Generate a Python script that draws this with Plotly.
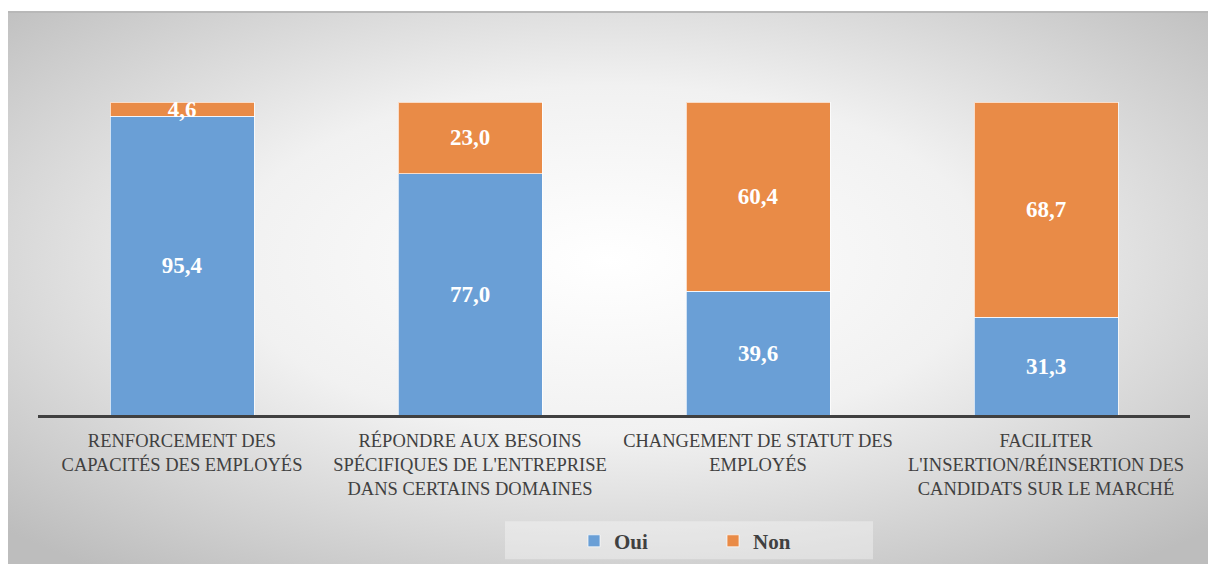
import plotly.graph_objects as go
import base64

categories = [
    "RENFORCEMENT DES<br>CAPACITÉS DES EMPLOYÉS",
    "RÉPONDRE AUX BESOINS<br>SPÉCIFIQUES DE L'ENTREPRISE<br>DANS CERTAINS DOMAINES",
    "CHANGEMENT DE STATUT DES<br>EMPLOYÉS",
    "FACILITER<br>L'INSERTION/RÉINSERTION DES<br>CANDIDATS SUR LE MARCHÉ",
]
oui = [95.4, 77.0, 39.6, 31.3]
non = [4.6, 23.0, 60.4, 68.7]

W, H = 1208, 574
K = H / 564.0  # vertical design factor
serif = "Liberation Serif, Times New Roman, serif"

FX, FY = 8, 9 * K
FW, FH = W - FX, H - FY

svg = (
    f'<svg xmlns="http://www.w3.org/2000/svg" width="{FW}" height="{FH:.0f}" preserveAspectRatio="none">'
    '<defs><radialGradient id="g" cx="50%" cy="45%" r="70%">'
    '<stop offset="0%" stop-color="#ffffff"/>'
    '<stop offset="45%" stop-color="#f1f1f1"/>'
    '<stop offset="100%" stop-color="#bdbdbd"/>'
    '</radialGradient></defs>'
    f'<rect width="{FW}" height="{FH:.0f}" fill="url(#g)"/></svg>'
)
uri = "data:image/svg+xml;base64," + base64.b64encode(svg.encode()).decode()

label_font = dict(family=serif, size=23, color="white", weight="bold")

fig = go.Figure()
fig.add_trace(go.Bar(
    x=categories, y=oui, name="Oui",
    marker=dict(color="#6a9fd6", line=dict(color="rgba(255,255,255,0.7)", width=1)),
    texttemplate="%{y:.1f}", textposition="inside", insidetextanchor="middle",
    textfont=label_font,
))
fig.add_trace(go.Bar(
    x=categories, y=non, name="Non",
    marker=dict(color="#e98b47", line=dict(color="rgba(255,255,255,0.7)", width=1)),
    texttemplate="%{y:.1f}", textposition="inside", insidetextanchor="middle",
    textfont=label_font,
))

m_l, m_r = 38, 18
m_t = round(100 * K)
axis_y = round(414 * K)
m_b = H - axis_y
plot_w = W - m_l - m_r
plot_h = H - m_t - m_b

def px(x):
    return (x - m_l) / plot_w

def py(y):
    return (axis_y - y * K) / plot_h

fig.update_layout(
    width=W, height=H,
    margin=dict(l=m_l, r=m_r, t=m_t, b=m_b, pad=0),
    barmode="stack", bargap=0.5,
    separators=", ",
    paper_bgcolor="white", plot_bgcolor="rgba(0,0,0,0)",
    uniformtext=dict(minsize=10, mode="show"),
    showlegend=True,
    legend=dict(
        orientation="h", x=px(574), xanchor="left",
        y=py(540), yanchor="middle",
        bgcolor="rgba(0,0,0,0)", entrywidth=94,
        font=dict(family=serif, size=21, color="#404040", weight="bold"),
        traceorder="normal",
    ),
    xaxis=dict(
        showline=True, linecolor="#404040", linewidth=3,
        showgrid=False, ticks="", zeroline=False,
        tickfont=dict(family=serif, size=18.5, color="#404040"),
        ticklabelstandoff=7,
        fixedrange=True,
    ),
    yaxis=dict(range=[0, 100], visible=False, fixedrange=True),
    images=[dict(
        source=uri, xref="paper", yref="paper",
        x=px(FX), y=(axis_y - FY) / plot_h,
        sizex=FW / plot_w, sizey=FH / plot_h,
        xanchor="left", yanchor="top", sizing="stretch", layer="below",
    )],
    shapes=[
        dict(type="line", xref="paper", yref="paper",
             x0=px(FX), x1=px(W), y0=(axis_y - FY - 1) / plot_h, y1=(axis_y - FY - 1) / plot_h,
             line=dict(color="#b8b8b8", width=2), layer="below"),
        dict(type="rect", xref="paper", yref="paper",
             x0=px(505), x1=px(873), y0=py(520), y1=py(558),
             fillcolor="rgba(255,255,255,0.35)", line=dict(width=0), layer="below"),
    ],
)

post = (
    "var d=document.getElementById('{plot_id}');"
    "d.style.position='fixed';d.style.left='0px';d.style.top='0px';"
    "document.body.style.margin='0';document.body.style.overflow='hidden';"
)
fig.write_html("out.html", post_script=post, config={"displayModeBar": False})
